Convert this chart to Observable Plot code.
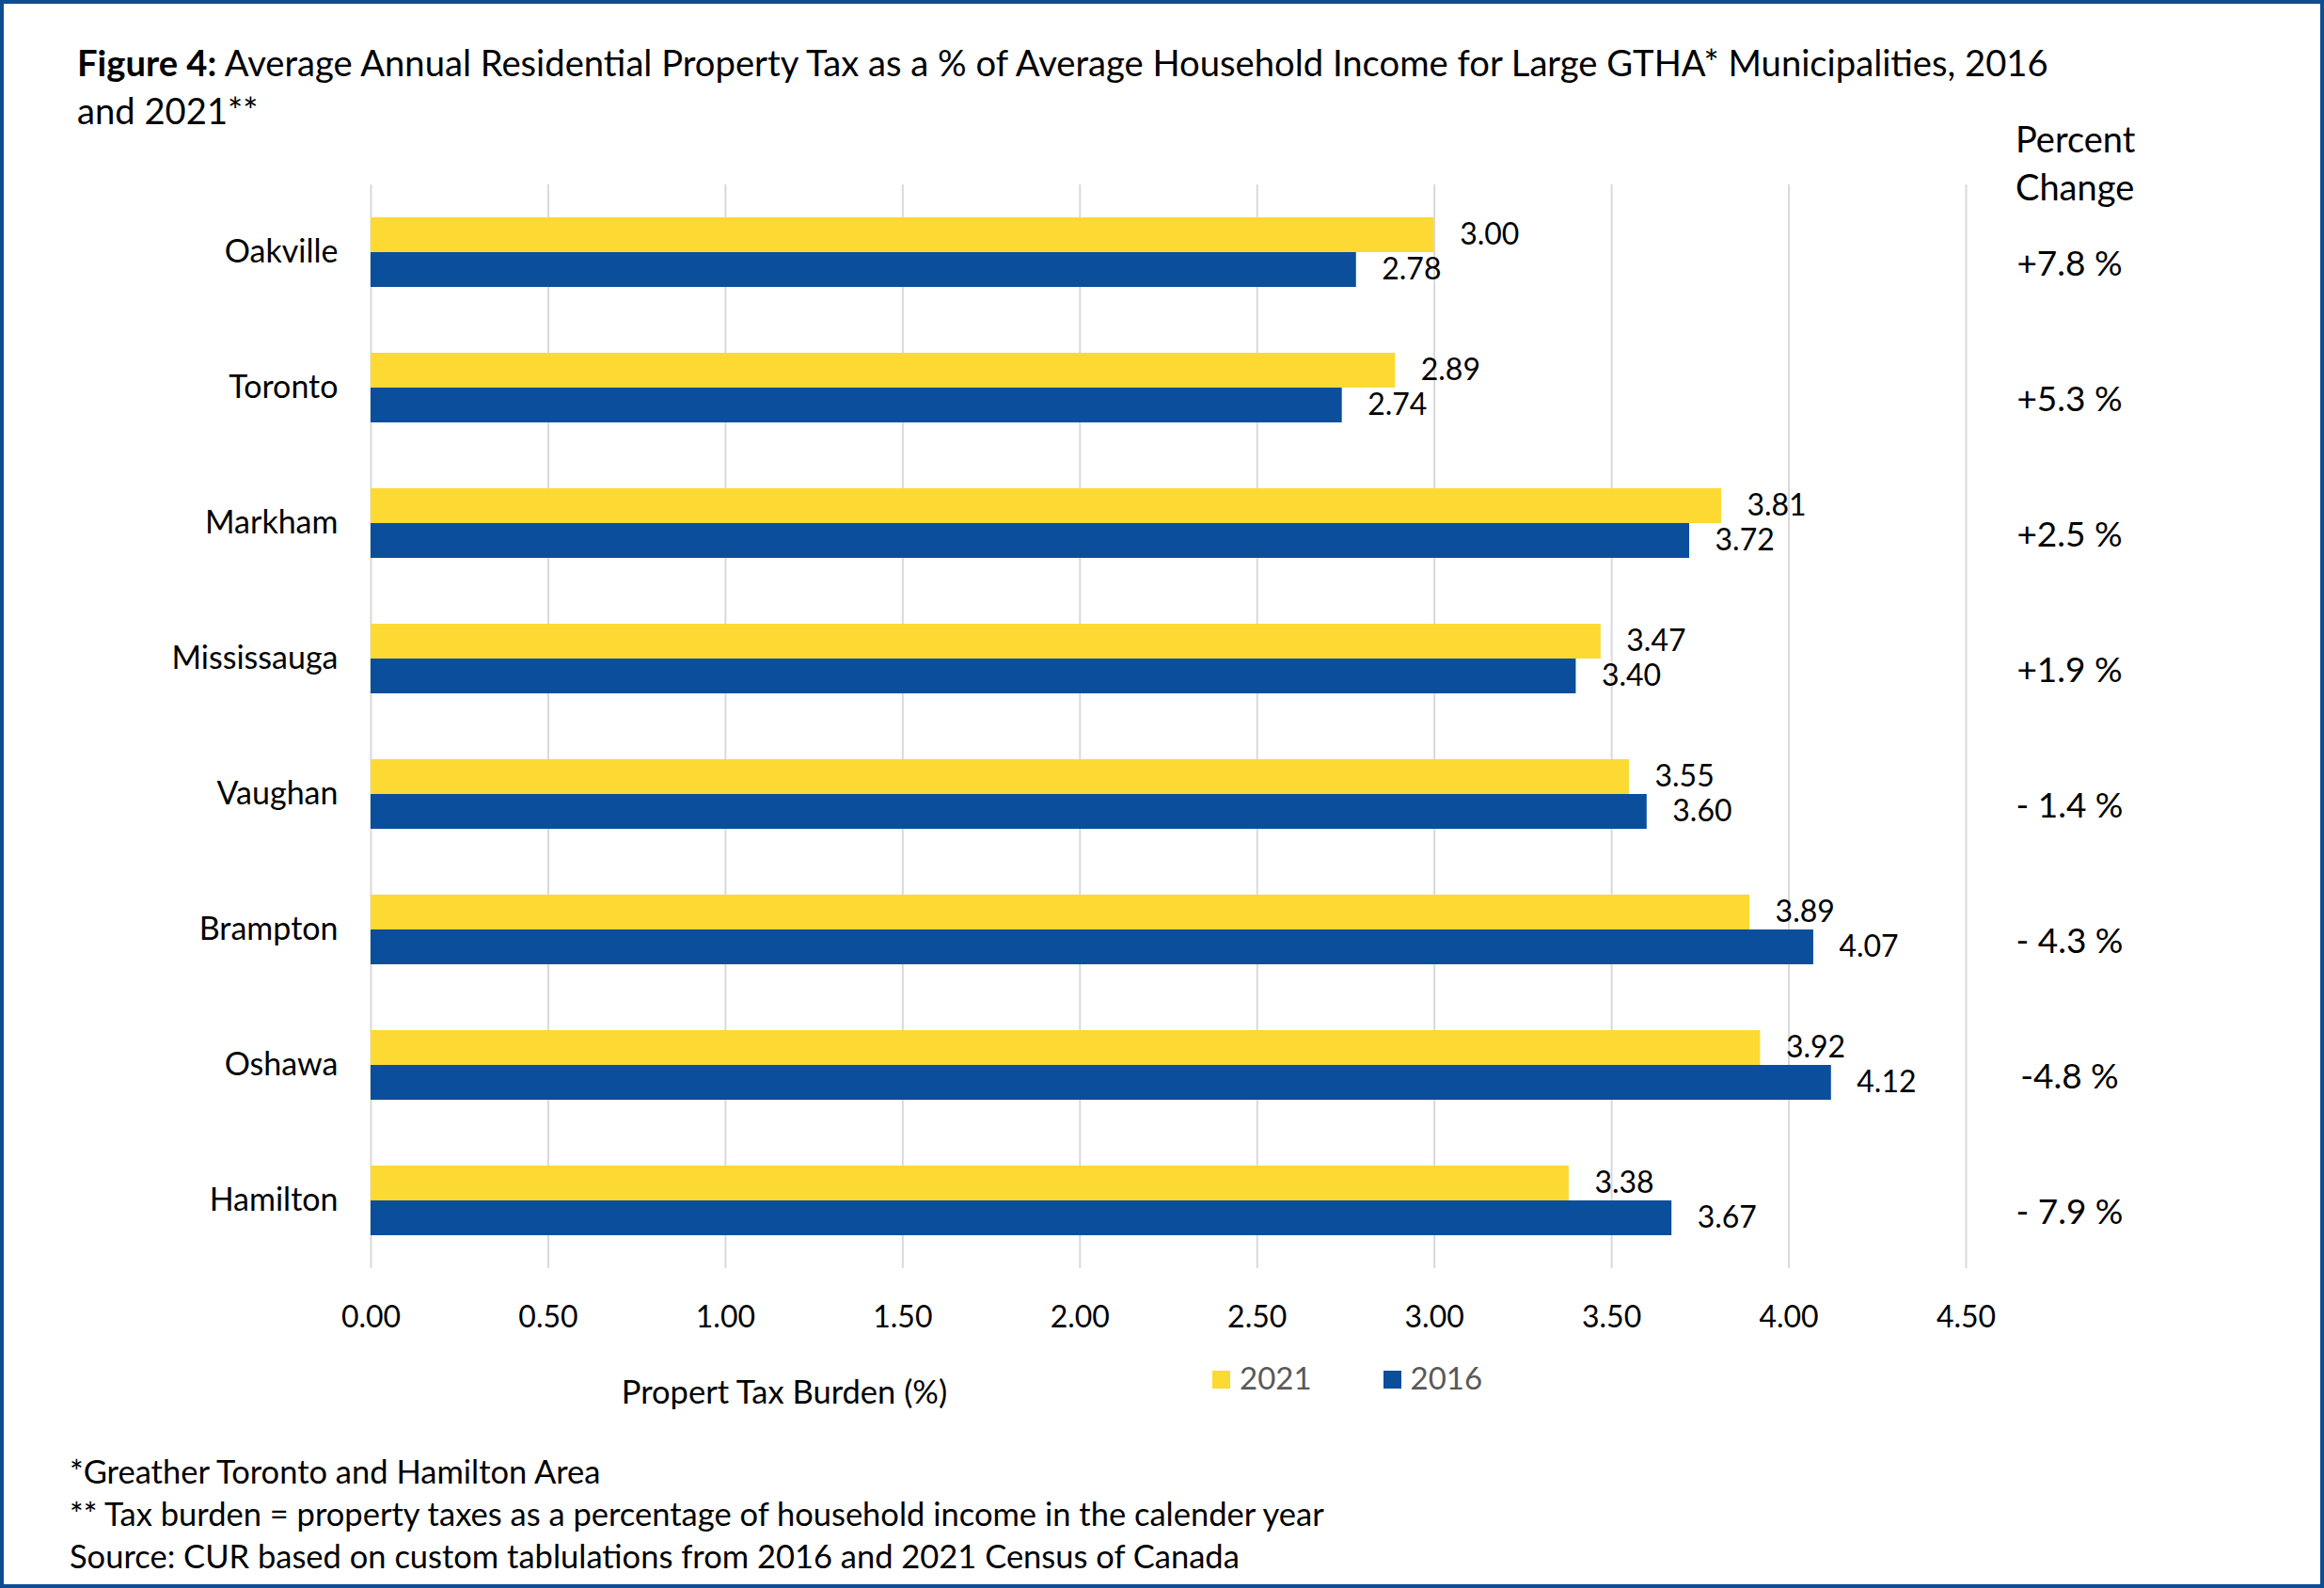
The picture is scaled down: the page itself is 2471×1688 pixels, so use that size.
<!DOCTYPE html>
<html><head><meta charset="utf-8">
<script src="https://cdn.jsdelivr.net/npm/d3@7"></script>
<script src="https://cdn.jsdelivr.net/npm/@observablehq/plot@0.6"></script>
<style>
html,body{margin:0;padding:0;background:#fff;}
#wrap{position:relative;width:2471px;height:1688px;font-family:Lato,sans-serif;overflow:hidden;background:#fff;}
#frame{position:absolute;left:0;top:0;width:2471px;height:1688px;box-sizing:border-box;border:4px solid #0e4d92;pointer-events:none;}
.abs{position:absolute;white-space:nowrap;color:#000;}
#chart{position:absolute;left:0;top:150px;}
.sw{display:inline-block;width:19px;height:19px;vertical-align:middle;margin-right:10px;position:relative;top:-2px;}
</style></head><body>
<div id="wrap">
  <div class="abs" id="title" style="left:82px;top:41px;font-size:38.2px;line-height:51px;"><b>Figure 4:</b> Average Annual Residential Property Tax as a % of Average Household Income for Large GTHA* Municipalities, 2016<br>and 2021**</div>
  <div class="abs" id="hdr" style="left:2143px;top:122px;font-size:38px;line-height:51px;">Percent<br>Change</div>
  <div id="chart"></div>
  <div class="abs" id="xlabel" style="left:834px;top:1478px;font-size:34.5px;transform:translate(-50%,-50%);">Propert Tax Burden (%)</div>
  <div class="abs" id="legend" style="left:1289px;top:1464px;font-size:33px;color:#595959;transform:translateY(-50%);"></div>
  <div class="abs" id="notes" style="left:74px;top:1541px;font-size:34.5px;line-height:45px;"></div>
  <div id="frame"></div>
</div>
<script>
const cities = ["Oakville","Toronto","Markham","Mississauga","Vaughan","Brampton","Oshawa","Hamilton"];
const years = ["2021","2016"];
const values2021 = [3.00,2.89,3.81,3.47,3.55,3.89,3.92,3.38];
const values2016 = [2.78,2.74,3.72,3.40,3.60,4.07,4.12,3.67];
const pctChange = ["+7.8 %","+5.3 %","+2.5 %","+1.9 %","- 1.4 %","- 4.3 %","-4.8 %","- 7.9 %"];
const xTicks = [0,0.5,1,1.5,2,2.5,3,3.5,4,4.5];
const colors = ["#fdd933","#0b4e9b"];
const notes = ["*Greather Toronto and Hamilton Area","** Tax burden = property taxes as a percentage of household income in the calender year","Source: CUR based on custom tablulations from 2016 and 2021 Census of Canada"];

const data = cities.flatMap((c,i)=>[
  {city:c, year:years[0], value:values2021[i]},
  {city:c, year:years[1], value:values2016[i]}
]);
const changeData = cities.map((c,i)=>({city:c, pct:pctChange[i]}));

const chart = Plot.plot({
  width: 2471, height: 1273,
  marginLeft: 394, marginRight: 381, marginTop: 44, marginBottom: 74,
  style: {fontFamily:"Lato, sans-serif", fontSize:"32px", color:"#000", background:"transparent", overflow:"visible"},
  x: {domain:[0,4.5], ticks:xTicks, tickFormat:d3.format(".2f"), tickSize:0, tickPadding:40, label:null},
  y: {domain:years, axis:null, paddingInner:0, paddingOuter:0.91},
  fy: {domain:cities, padding:0, label:null},
  color: {domain:years, range:colors},
  marks: [
    Plot.gridX(xTicks, {stroke:"#d9d9d9", strokeOpacity:1, strokeWidth:2}),
    Plot.barX(data, {fy:"city", y:"year", x:"value", fill:"year"}),
    Plot.text(data, {fy:"city", y:"year", x:"value", text:d=>d.value.toFixed(2), textAnchor:"start", dx:27, fill:"#000"}),
    Plot.text(changeData, {fy:"city", text:"pct", frameAnchor:"right", dx:110, dy:13, textAnchor:"middle", fill:"#000", fontSize:37}),
    Plot.axisFy({anchor:"left", tickSize:0, tickPadding:35, fontSize:34, label:null})
  ]
});
document.getElementById("chart").appendChild(chart);

document.getElementById("legend").innerHTML = years.map((y,i)=>
  `<span style="margin-right:${i===0?76:0}px"><span class="sw" style="background:${colors[i]}"></span>${y}</span>`).join("");
document.getElementById("notes").innerHTML = notes.join("<br>");
</script>
</body></html>
